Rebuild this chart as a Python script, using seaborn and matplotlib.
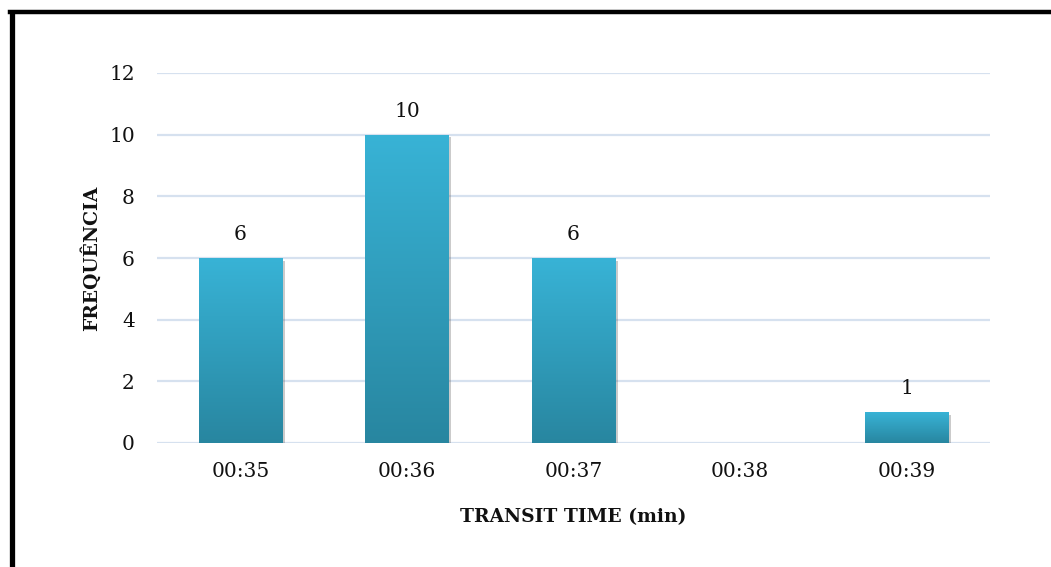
import numpy as np
import pandas as pd
import matplotlib
matplotlib.use("Agg")
import matplotlib.pyplot as plt
import seaborn as sns
from matplotlib.colors import LinearSegmentedColormap
from matplotlib.lines import Line2D
import matplotlib.patheffects as pe

# Data
transit_times = ["00:35", "00:36", "00:37", "00:38", "00:39"]
frequencies = [6, 10, 6, 0, 1]
y_ticks = [0, 2, 4, 6, 8, 10, 12]

df = pd.DataFrame({"time": transit_times, "freq": frequencies})

sns.set_theme(style="white")
plt.rcParams["font.family"] = ["DejaVu Serif"]

W, H = 1051, 567
fig = plt.figure(figsize=(W / 100, H / 100), dpi=100)
ax = fig.add_axes([157 / W, 1 - 443 / H, (990 - 157) / W, (443 - 73) / H])

sns.barplot(data=df, x="time", y="freq", ax=ax, width=0.5,
            color="#31a7c9", saturation=1, zorder=3)

# Vertical gradient fill for each bar, with a soft drop shadow
grad = LinearSegmentedColormap.from_list("bar", ["#2886a0", "#38b3d6"])
gimg = np.linspace(0, 1, 256).reshape(-1, 1)
for patch in ax.patches:
    x0, y0 = patch.get_x(), patch.get_y()
    w, h = patch.get_width(), patch.get_height()
    if h <= 0:
        patch.set_visible(False)
        continue
    patch.set_facecolor("#31a7c9")
    patch.set_edgecolor("none")
    patch.set_path_effects([pe.SimplePatchShadow(offset=(2, -2), alpha=0.3,
                                                 shadow_rgbFace="#555555"),
                            pe.Normal()])
    im = ax.imshow(gimg, cmap=grad, aspect="auto", origin="lower",
                   extent=[x0, x0 + w, y0, y0 + h], zorder=4)
    im.set_clip_path(patch)

# Value labels above bars
for i, v in enumerate(frequencies):
    if v > 0:
        ax.annotate(str(v), (i, v), xytext=(0, 17), textcoords="offset points",
                    ha="center", va="center", fontsize=14.5, color="#111111")

ax.set_xlim(-0.5, len(transit_times) - 0.5)
ax.set_ylim(0, 12)
ax.set_yticks(y_ticks)
ax.set_yticklabels([str(t) for t in y_ticks])
ax.yaxis.grid(True, color="#d6e1ef", linewidth=1.6, zorder=0)
ax.xaxis.grid(False)
for s in ax.spines.values():
    s.set_visible(False)
ax.tick_params(axis="both", length=0, labelsize=14.5, labelcolor="#111111")
ax.tick_params(axis="y", pad=16)
ax.tick_params(axis="x", pad=14)

ax.set_xlabel("TRANSIT TIME (min)", fontsize=13.5, fontweight="bold",
              color="#111111", labelpad=19)
ax.set_ylabel("FREQUÊNCIA", fontsize=13.5, fontweight="bold",
              color="#111111", labelpad=6)

# Frame lines along the top and left edges
fig.add_artist(Line2D([9.6 / W, 1], [1 - 11.5 / H, 1 - 11.5 / H],
                      transform=fig.transFigure, color="black", linewidth=3.2,
                      solid_capstyle="projecting"))
fig.add_artist(Line2D([11.5 / W, 11.5 / W], [0, 1 - 11.5 / H],
                      transform=fig.transFigure, color="black", linewidth=3.8,
                      solid_capstyle="butt"))

ax.set_axisbelow(True)
fig.savefig("out.png", dpi=100, facecolor="white")
